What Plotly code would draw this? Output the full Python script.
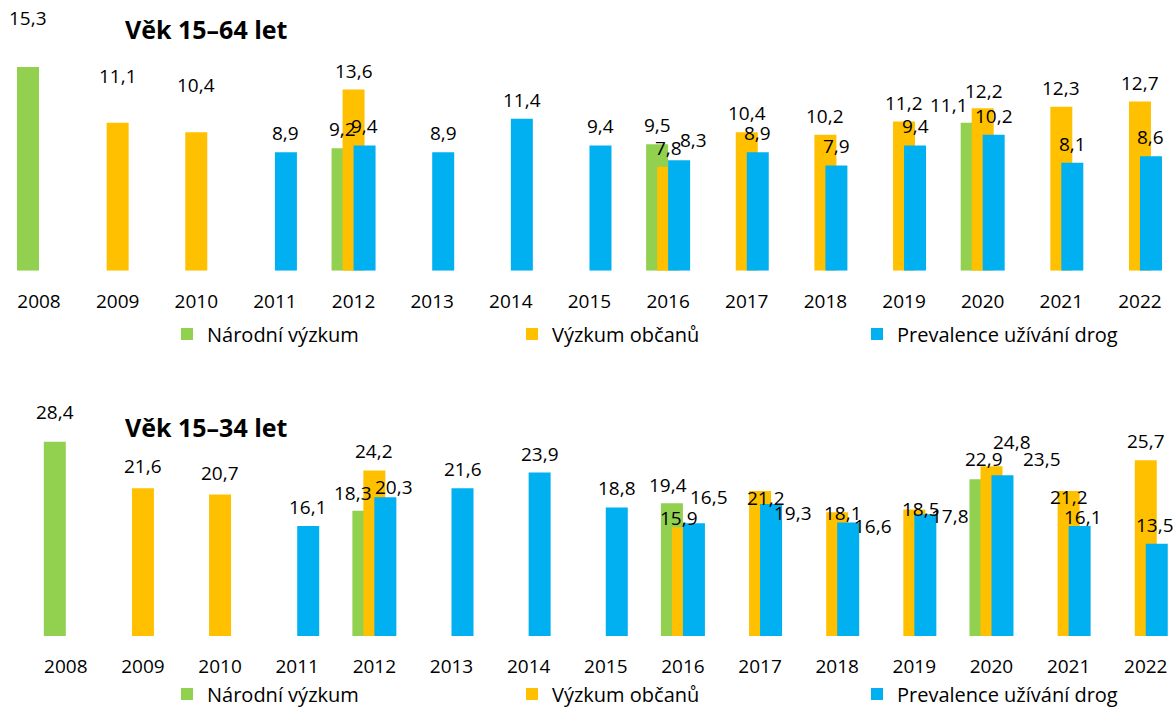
import plotly.graph_objects as go

years = list(range(2008, 2023))

# Věk 15–64 let
narodni_64 = [15.3, None, None, None, 9.2, None, None, None, 9.5, None, None, None, 11.1, None, None]
obcanu_64 = [None, 11.1, 10.4, None, 13.6, None, None, None, 7.8, 10.4, 10.2, 11.2, 12.2, 12.3, 12.7]
prevalence_64 = [None, None, None, 8.9, 9.4, 8.9, 11.4, 9.4, 8.3, 8.9, 7.9, 9.4, 10.2, 8.1, 8.6]

# Věk 15–34 let
narodni_34 = [28.4, None, None, None, 18.3, None, None, None, 19.4, None, None, None, 22.9, None, None]
obcanu_34 = [None, 21.6, 20.7, None, 24.2, None, None, None, 15.9, 21.2, 18.1, 18.5, 24.8, 21.2, 25.7]
prevalence_34 = [None, None, None, 16.1, 20.3, 21.6, 23.9, 18.8, 16.5, 19.3, 16.6, 17.8, 23.5, 16.1, 13.5]

series_names = ["Národní výzkum", "Výzkum občanů", "Prevalence užívání drog"]
colors = ["#92D050", "#FFC000", "#00B0F0"]

FONT = "Open Sans"
W, H = 1173, 707

# layout geometry (pixels)
top_px_per_year, bot_px_per_year = 78.64, 77.14
top_first_x, bot_first_x = 39.0, 65.8
top_base, bot_base = 270.7, 636.0
top_px_per_unit, bot_px_per_unit = 13.32, 6.84
top_top, bot_top = 40.0, 420.0
bar_px = 22.0

# label nudges (px): (dx, dy) — dy positive moves up
nudge = {
    ("t", 0, 2008): (0, 30),
    ("t", 1, 2009): (0, 28),
    ("t", 1, 2010): (0, 28),
    ("t", 0, 2020): (-23, -1),
    ("t", 1, 2020): (1, -2),
    ("t", 2, 2016): (14, 1),
    ("b", 0, 2008): (0, 11),
    ("b", 1, 2009): (0, 3),
    ("b", 1, 2010): (0, 2),
    ("b", 0, 2012): (-10, -1),
    ("b", 2, 2012): (9, -9),
    ("b", 0, 2016): (-4, -1),
    ("b", 1, 2016): (-4, -10),
    ("b", 2, 2016): (15, 7),
    ("b", 1, 2017): (6, -26),
    ("b", 2, 2017): (22, -28),
    ("b", 1, 2018): (6, -20),
    ("b", 2, 2018): (25, -23),
    ("b", 1, 2019): (7, -19),
    ("b", 2, 2019): (25, -21),
    ("b", 0, 2020): (4, 1),
    ("b", 1, 2020): (21, 5),
    ("b", 2, 2020): (40, -3),
    ("b", 1, 2021): (0, -25),
    ("b", 2, 2021): (3, -10),
    ("b", 2, 2022): (-2, 0),
}

fig = go.Figure()
annotations = []

panels = [
    ("t", [narodni_64, obcanu_64, prevalence_64], "x", "y", top_px_per_year, "legend"),
    ("b", [narodni_34, obcanu_34, prevalence_34], "x2", "y2", bot_px_per_year, "legend2"),
]

for key, data, xa, ya, ppy, leg in panels:
    w = bar_px / ppy
    for i, vals in enumerate(data):
        xs = [y for y, v in zip(years, vals) if v is not None]
        vs = [v for v in vals if v is not None]
        offset = (i - 1) * (w / 2) - w / 2
        fig.add_trace(go.Bar(
            x=xs, y=vs, name=series_names[i], marker=dict(color=colors[i], line=dict(width=0)),
            width=w, offset=offset, xaxis=xa, yaxis=ya, legend=leg, showlegend=True,
            hoverinfo="skip",
        ))
        for xv, v in zip(xs, vs):
            dx, dy = nudge.get((key, i, xv), (0, 0))
            annotations.append(dict(
                x=xv + (i - 1) * (w / 2), y=v, xref=xa, yref=ya,
                text=f"{v:.1f}".replace(".", ","), showarrow=False,
                xanchor="center", yanchor="middle", xshift=dx, yshift=19 + dy,
                font=dict(family=FONT, size=19, color="#000000"),
            ))

for title, ty in [("Věk 15–64 let", 29), ("Věk 15–34 let", 427)]:
    annotations.append(dict(x=124 / W, y=1 - ty / H, xref="paper", yref="paper",
                            text=f"<b>{title}</b>", showarrow=False, xanchor="left", yanchor="middle",
                            borderpad=0, font=dict(family=FONT, size=25, color="#000000")))

def xrange(first_x, ppy):
    left = years[0] - first_x / ppy
    return [left, left + W / ppy]

axis_common = dict(tickmode="array", tickvals=years, ticktext=[str(y) for y in years],
                   showgrid=False, zeroline=False, showline=False, automargin=False,
                   ticks="outside", ticklen=13, tickcolor="rgba(0,0,0,0)",
                   tickfont=dict(family=FONT, size=19, color="#000000"))

legend_common = dict(orientation="h", xref="paper", yref="paper",
                     xanchor="left", entrywidth=300, entrywidthmode="pixels",
                     itemwidth=30, font=dict(family=FONT, size=20, color="#000000"),
                     bgcolor="rgba(0,0,0,0)", traceorder="normal", borderwidth=0)

fig.update_layout(
    width=W, height=H,
    margin=dict(l=0, r=0, t=0, b=0, autoexpand=False),
    paper_bgcolor="white", plot_bgcolor="white",
    barmode="overlay",
    xaxis=dict(domain=[0, 1], range=xrange(top_first_x, top_px_per_year), anchor="y", **axis_common),
    yaxis=dict(domain=[1 - top_base / H, 1 - top_top / H],
               range=[0, (top_base - top_top) / top_px_per_unit], visible=False, anchor="x"),
    xaxis2=dict(domain=[0, 1], range=xrange(bot_first_x, bot_px_per_year), anchor="y2", **axis_common),
    yaxis2=dict(domain=[1 - bot_base / H, 1 - bot_top / H],
                range=[0, (bot_base - bot_top) / bot_px_per_unit], visible=False, anchor="x2"),
    legend=dict(x=167 / W, y=1 - 334 / H, yanchor="middle", **legend_common),
    legend2=dict(x=167 / W, y=1 - 694 / H, yanchor="middle", **legend_common),
    annotations=annotations,
    showlegend=True,
)

fig.write_html(
    "out.html",
    config={"displayModeBar": False},
    post_script="document.body.style.margin='0px';document.body.style.overflow='hidden';",
)
